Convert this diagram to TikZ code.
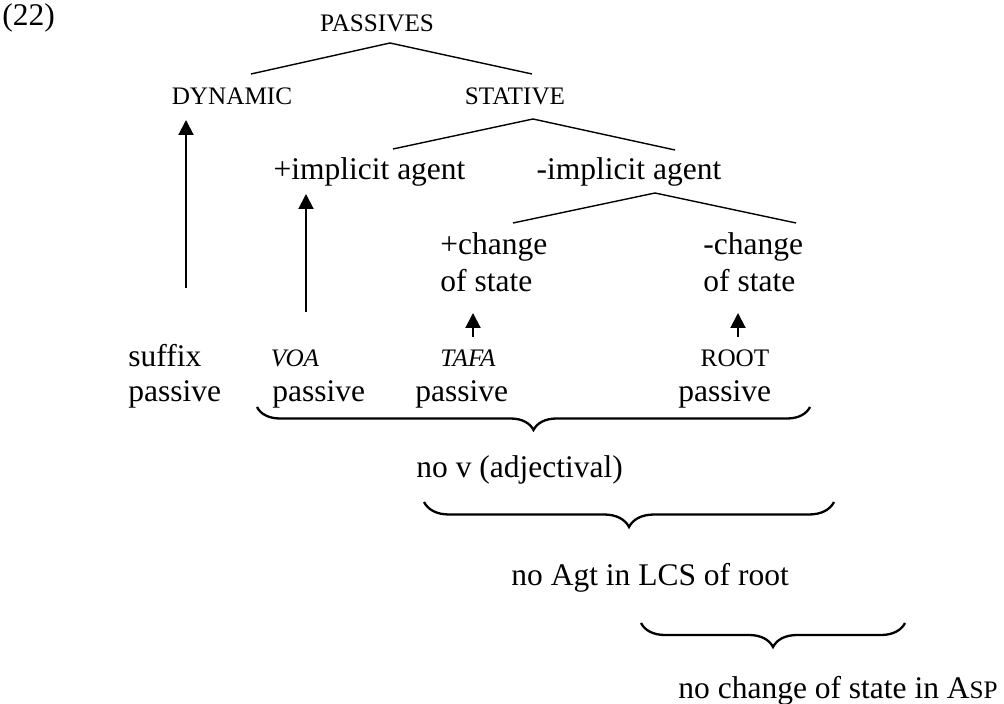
\documentclass[tikz,border=0pt]{standalone}
\usepackage{fontspec}
\setmainfont{Liberation Serif}
\usetikzlibrary{arrows.meta,decorations.pathreplacing}
\begin{document}
\begin{tikzpicture}[x=0.5pt,y=-0.5pt,
  txt/.style={inner sep=0pt,font=\fontsize{15.75pt}{18pt}\selectfont},
  sc/.style={inner sep=0pt,font=\fontsize{12.6pt}{14pt}\selectfont},
  isc/.style={inner sep=0pt,font=\fontsize{12.6pt}{14pt}\selectfont\itshape},
  tree/.style={line width=0.7pt},
  uparrow/.style={line width=1pt,-{Triangle[length=7.5pt,width=7.5pt]}},
  brc/.style={line width=1.15pt,decorate,decoration={brace,mirror,amplitude=#1,aspect=0.5}}]
\useasboundingbox (0,0) rectangle (1004,704);
% text nodes
\node[txt,anchor=base west] (ex) at (2,26) {(22)};
\node[sc,anchor=base] (passives) at (377,32) {PASSIVES};
\node[sc,anchor=base] (dynamic) at (232,105) {DYNAMIC};
\node[sc,anchor=base] (stative) at (515,105) {STATIVE};
\node[txt,anchor=base] (pia) at (369.5,180) {+implicit agent};
\node[txt,anchor=base] (mia) at (629,180) {-implicit agent};
\node[txt,anchor=base west] (pch) at (440,255) {+change};
\node[txt,anchor=base west] (pos) at (440,292) {of state};
\node[txt,anchor=base west] (mch) at (703,255) {-change};
\node[txt,anchor=base west] (mos) at (703,292) {of state};
\node[txt,anchor=base west] (suf) at (128,367) {suffix};
\node[txt,anchor=base west] (sufp) at (128,402) {passive};
\node[isc,anchor=base] (voa) at (295,367) {VOA};
\node[txt,anchor=base west] (voap) at (272,402) {passive};
\node[isc,anchor=base] (tafa) at (468,367) {TAFA};
\node[txt,anchor=base west] (tafap) at (415,402) {passive};
\node[sc,anchor=base] (root) at (735,367) {ROOT};
\node[txt,anchor=base west] (rootp) at (678,402) {passive};
\node[txt,anchor=base west] (nov) at (416,477) {no v (adjectival)};
\node[txt,anchor=base west] (noagt) at (511,585) {no Agt in LCS of root};
\node[txt,anchor=base west] (nocs) at (678,698) {no change of state in A{\fontsize{12.6pt}{14pt}\selectfont SP}};
% tree points
\coordinate (p0) at (390,43);
\coordinate (p1) at (251,74);
\coordinate (p2) at (532,74);
\coordinate (s0) at (533,119);
\coordinate (s1) at (393,149);
\coordinate (s2) at (675,150);
\coordinate (m0) at (655,193);
\coordinate (m1) at (513,223);
\coordinate (m2) at (796,223);
\draw[tree] (p1) -- (p0) -- (p2);
\draw[tree] (s1) -- (s0) -- (s2);
\draw[tree] (m1) -- (m0) -- (m2);
% arrows
\coordinate (a1b) at (186,288); \coordinate (a1t) at (186,120);
\coordinate (a2b) at (306,312); \coordinate (a2t) at (306,194);
\coordinate (a3b) at (473,337); \coordinate (a3t) at (473,313);
\coordinate (a4b) at (738,337); \coordinate (a4t) at (738,313);
\draw[uparrow] (a1b) -- (a1t);
\draw[uparrow] (a2b) -- (a2t);
\draw[uparrow] (a3b) -- (a3t);
\draw[uparrow] (a4b) -- (a4t);
% braces
\coordinate (b1l) at (257,407); \coordinate (b1r) at (810,407);
\coordinate (b2l) at (424,502); \coordinate (b2r) at (834,502);
\coordinate (b3l) at (641,623); \coordinate (b3r) at (905,623);
\draw[brc=11.5pt] (b1l) -- (b1r);
\draw[brc=12.5pt] (b2l) -- (b2r);
\draw[brc=12pt] (b3l) -- (b3r);
\end{tikzpicture}
\end{document}
